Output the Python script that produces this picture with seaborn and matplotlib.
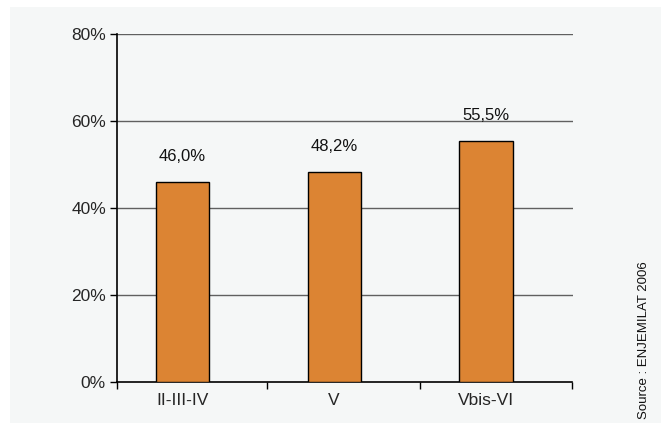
import matplotlib
matplotlib.use("Agg")
import matplotlib.pyplot as plt
import matplotlib.patches as mpatches
import seaborn as sns
import pandas as pd

categories = ["II-III-IV", "V", "Vbis-VI"]
values = [46.0, 48.2, 55.5]
value_labels = ["46,0%", "48,2%", "55,5%"]
y_ticks = [0, 20, 40, 60, 80]
y_tick_labels = ["0%", "20%", "40%", "60%", "80%"]
source_text = "Source : ENJEMILAT 2006"

sns.set_theme(style="white")
plt.rcParams["font.family"] = ["Liberation Sans", "DejaVu Sans"]

bg = "#f5f7f7"
fig = plt.figure(figsize=(6.61, 4.23), dpi=100)
fig.patch.set_facecolor("white")
fig.patches.append(mpatches.Rectangle((10 / 661, 0), 1 - 10 / 661, (423 - 7) / 423,
                                      transform=fig.transFigure, facecolor=bg,
                                      edgecolor="none", zorder=-10))
ax = fig.add_axes([117 / 661, (423 - 382) / 423, (572.5 - 117) / 661, (382 - 34) / 423])
ax.set_facecolor(bg)

df = pd.DataFrame({"cat": categories, "val": values})
sns.barplot(data=df, x="cat", y="val", ax=ax, color="#dc8433", saturation=1,
            width=0.35, edgecolor="black", linewidth=1, zorder=3)

for i, (v, lab) in enumerate(zip(values, value_labels)):
    ax.annotate(lab, xy=(i, v), xytext=(0, 13), textcoords="offset points",
                ha="center", va="bottom", fontsize=12, color="#111111")

ax.set_xlim(-0.43, 2.57)
ax.set_ylim(0, 80)
ax.set_yticks(y_ticks)
ax.set_yticklabels(y_tick_labels, fontsize=12.5)
ax.set_xticks(range(len(categories)))
ax.set_xticklabels(categories, fontsize=12.5)
ax.set_xticks([-0.43, 0.555, 1.565, 2.57], minor=True)
ax.tick_params(axis="x", which="major", length=0, pad=8)
ax.tick_params(axis="x", which="minor", length=5, width=1, color="black", direction="out", bottom=True)
ax.tick_params(axis="y", length=5, width=1, color="black", direction="out", left=True, pad=3)
ax.set_xlabel("")
ax.set_ylabel("")

for y in y_ticks[1:]:
    ax.axhline(y, color="#606060", linewidth=1.0, zorder=1)

for s in ["top", "right"]:
    ax.spines[s].set_visible(False)
ax.spines["left"].set_color("black")
ax.spines["bottom"].set_color("black")
ax.spines["left"].set_linewidth(1.2)
ax.spines["bottom"].set_linewidth(1.2)

fig.text(644 / 661, (423 - 340) / 423, source_text, rotation=90, ha="center", va="center",
         fontsize=9.5, color="#111111")

fig.savefig("out.png", dpi=100, facecolor=fig.get_facecolor())
